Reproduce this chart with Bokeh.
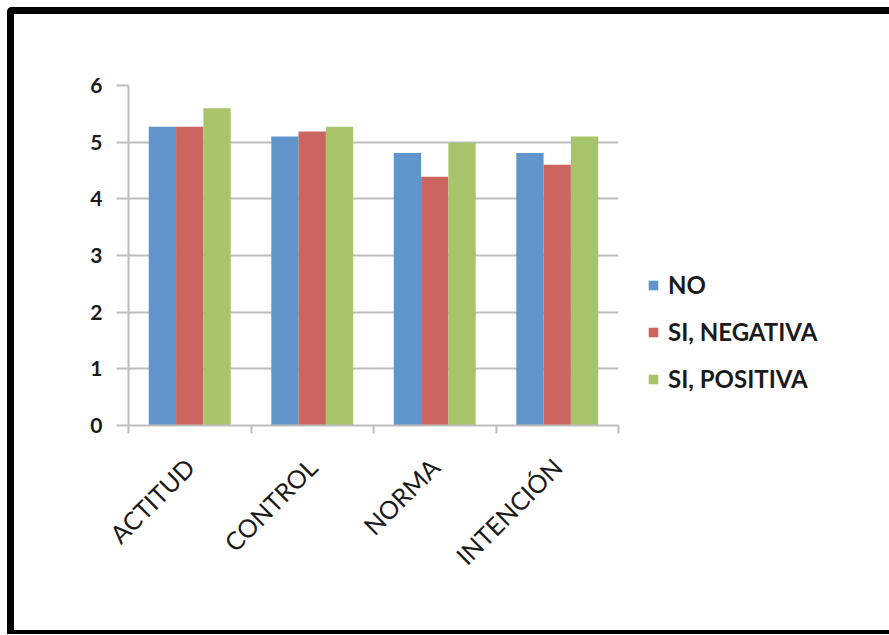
import numpy as np
from bokeh.plotting import figure
from bokeh.models import (ColumnDataSource, FixedTicker, Legend, LegendItem, Range1d,
                          GlobalInlineStyleSheet)
from bokeh.embed import file_html
from bokeh.resources import INLINE

categories = ["ACTITUD", "CONTROL", "NORMA", "INTENCIÓN"]
series_names = ["NO", "SI, NEGATIVA", "SI, POSITIVA"]
no_vals = [5.27, 5.10, 4.81, 4.81]
neg_vals = [5.27, 5.19, 4.39, 4.60]
pos_vals = [5.60, 5.27, 4.99, 5.10]
y_ticks = [0, 1, 2, 3, 4, 5, 6]
colors = ["#5F95CA", "#CC6460", "#A8C46A"]

FONT = "Lato"
TXT = "#1a1a1a"
GRID = "#BDBDBD"

p = figure(width=875, height=616, output_backend="svg", toolbar_location=None,
           x_range=Range1d(0, len(categories)), y_range=Range1d(0, 6),
           min_border_left=114, min_border_top=71, min_border_bottom=205,
           min_border_right=271, frame_width=490, frame_height=340)
p.styles = {"margin-left": "7px", "margin-top": "7px",
            "border-left": "7px solid black", "border-top": "7px solid black",
            "border-bottom": "4px solid black",
            "border-top-left-radius": "5px"}
p.stylesheets = [GlobalInlineStyleSheet(css=(
    "html, body { overflow: hidden !important; scrollbar-width: none; }"
    " ::-webkit-scrollbar { display: none; width: 0; height: 0; }"))]
p.outline_line_color = None
p.background_fill_color = "white"
p.border_fill_color = "white"

idx = np.arange(len(categories))
bw = 0.223
renderers = []
for k, (vals, col) in enumerate(zip([no_vals, neg_vals, pos_vals], colors)):
    src = ColumnDataSource(dict(x=idx + 0.5 + (k - 1) * bw, top=vals))
    r = p.vbar(x="x", top="top", bottom=0, width=bw, source=src,
               fill_color=col, line_color=None)
    renderers.append(r)

xa = p.xaxis[0]
xa.ticker = FixedTicker(ticks=list(idx + 0.5), minor_ticks=list(range(len(categories) + 1)))
xa.major_label_overrides = {float(i + 0.5): c for i, c in enumerate(categories)}
xa.major_tick_line_color = None
xa.minor_tick_in = 0
xa.minor_tick_out = 8
xa.minor_tick_line_color = GRID
xa.minor_tick_line_width = 2
xa.axis_line_color = GRID
xa.axis_line_width = 2
xa.major_label_orientation = np.pi / 4
xa.major_label_standoff = 29
xa.major_label_text_font = FONT
xa.major_label_text_font_size = "25px"
xa.major_label_text_color = TXT

ya = p.yaxis[0]
ya.ticker = FixedTicker(ticks=y_ticks)
ya.minor_tick_line_color = None
ya.major_tick_in = 0
ya.major_tick_out = 12
ya.major_tick_line_color = GRID
ya.major_tick_line_width = 2
ya.axis_line_color = GRID
ya.axis_line_width = 2
ya.major_label_standoff = 14
ya.major_label_text_font = FONT
ya.major_label_text_font_size = "21px"
ya.major_label_text_font_style = "bold"
ya.major_label_text_color = TXT

p.xgrid.grid_line_color = None
p.ygrid.grid_line_color = GRID
p.ygrid.grid_line_width = 2

legend = Legend(items=[LegendItem(label=n, renderers=[r]) for n, r in zip(series_names, renderers)],
                location=(29, 32), padding=0, margin=0, border_line_color=None,
                background_fill_alpha=0, glyph_width=12, glyph_height=12,
                label_height=24, spacing=18, label_standoff=9,
                label_text_font=FONT, label_text_font_size="24px",
                label_text_color=TXT, label_text_font_style="bold")
p.add_layout(legend, "right")

open("out.html", "w").write(file_html(p, INLINE))
